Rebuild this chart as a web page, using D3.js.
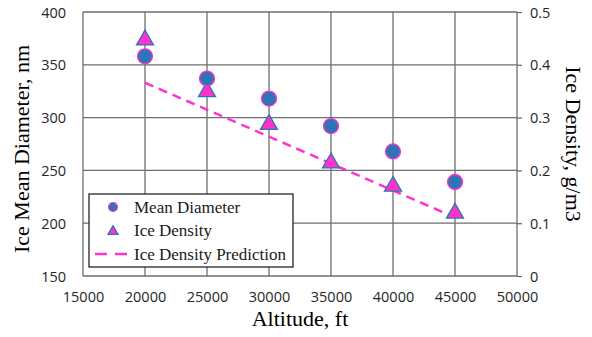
<!DOCTYPE html>
<html>
<head>
<meta charset="utf-8">
<script src="https://cdn.jsdelivr.net/npm/d3@7"></script>
<style>
  body { margin: 0; background: #fff; }
  svg { display: block; }
</style>
</head>
<body>
<svg id="chart"></svg>
<script>
// chart data
const altitude = [20000, 25000, 30000, 35000, 40000, 45000];
const meanDiameter = [358, 337, 318, 292, 268, 239];
const iceDensity = [0.447, 0.349, 0.287, 0.214, 0.170, 0.119];
const predictionAlt = [20000, 45000];
const predictionDensity = [0.366, 0.111];
const xTicks = [15000, 20000, 25000, 30000, 35000, 40000, 45000, 50000];
const yLeftTicks = [150, 200, 250, 300, 350, 400];
const yRightTicks = [0, 0.1, 0.2, 0.3, 0.4, 0.5];
const legendLabels = ["Mean Diameter", "Ice Density", "Ice Density Prediction"];

const size = { width: 592, height: 337 };
const plot = { left: 83, right: 517, top: 12, bottom: 276 };

const pink = "#ff33cc";
const blue = "#2e75b6";
const grid = "#6e6e6e";
const tickFont = "'Open Sans', 'DejaVu Sans', sans-serif";
const titleFont = "'Liberation Serif', 'Times New Roman', serif";

const svg = d3.select("#chart")
  .attr("width", size.width)
  .attr("height", size.height);

const xScale = d3.scaleLinear([15000, 50000], [plot.left, plot.right]);
const yLeft = d3.scaleLinear([150, 400], [plot.bottom, plot.top]);
const yRight = d3.scaleLinear([0, 0.5], [plot.bottom, plot.top]);

// gridlines
const gridG = svg.append("g");
gridG.selectAll(".gx")
  .data(xTicks)
  .join("line")
  .attr("x1", d => xScale(d)).attr("x2", d => xScale(d))
  .attr("y1", plot.top).attr("y2", plot.bottom)
  .attr("stroke", grid).attr("stroke-width", 1.3);
gridG.selectAll(".gy")
  .data(yLeftTicks)
  .join("line")
  .attr("x1", plot.left).attr("x2", plot.right)
  .attr("y1", d => yLeft(d)).attr("y2", d => yLeft(d))
  .attr("stroke", grid).attr("stroke-width", 1.3);

// axes (labels only on left / bottom, ticks on right)
const xAxis = svg.append("g")
  .attr("transform", `translate(0,${plot.bottom})`)
  .call(d3.axisBottom(xScale).tickValues(xTicks).tickFormat(d3.format("d")).tickSize(0).tickPadding(16));
const leftAxis = svg.append("g")
  .attr("transform", `translate(${plot.left},0)`)
  .call(d3.axisLeft(yLeft).tickValues(yLeftTicks).tickSize(0).tickPadding(17));
const rightAxis = svg.append("g")
  .attr("transform", `translate(${plot.right},0)`)
  .call(d3.axisRight(yRight).tickValues(yRightTicks).tickFormat(d => d === 0 ? "0" : d3.format(".1f")(d)).tickSize(5).tickPadding(8));

[xAxis, leftAxis, rightAxis].forEach(a => {
  a.select(".domain").remove();
  a.selectAll("text")
    .attr("font-family", tickFont)
    .attr("font-size", 14.5)
    .attr("fill", "#262626");
  a.selectAll("line").attr("stroke", grid).attr("stroke-width", 1.3);
});
rightAxis.selectAll("text").attr("dy", "0.35em");
leftAxis.selectAll("text").attr("dy", "0.35em");

// axis titles
svg.append("text")
  .attr("x", 300)
  .attr("y", 326)
  .attr("text-anchor", "middle")
  .attr("font-family", titleFont)
  .attr("font-size", 22)
  .text("Altitude, ft");
svg.append("text")
  .attr("transform", `translate(29,${(plot.top + plot.bottom) / 2 + 5}) rotate(-90)`)
  .attr("text-anchor", "middle")
  .attr("font-family", titleFont)
  .attr("font-size", 22)
  .text("Ice Mean Diameter, nm");
svg.append("text")
  .attr("transform", `translate(566,${(plot.top + plot.bottom) / 2}) rotate(90)`)
  .attr("text-anchor", "middle")
  .attr("font-family", titleFont)
  .attr("font-size", 22)
  .text("Ice Density, g/m3");

// prediction line
const line = d3.line()
  .x(d => xScale(d[0]))
  .y(d => yRight(d[1]));
svg.append("path")
  .datum(d3.zip(predictionAlt, predictionDensity))
  .attr("d", line)
  .attr("fill", "none")
  .attr("stroke", pink)
  .attr("stroke-width", 2.5)
  .attr("stroke-dasharray", "9,6");

// markers
const triangle = d3.symbol().type(d3.symbolTriangle).size(125);
svg.append("g")
  .selectAll("path")
  .data(d3.zip(altitude, iceDensity))
  .join("path")
  .attr("d", triangle)
  .attr("transform", d => `translate(${xScale(d[0])},${yRight(d[1])})`)
  .attr("fill", pink)
  .attr("stroke", blue)
  .attr("stroke-width", 1.3);

svg.append("g")
  .selectAll("circle")
  .data(d3.zip(altitude, meanDiameter))
  .join("circle")
  .attr("cx", d => xScale(d[0]))
  .attr("cy", d => yLeft(d[1]))
  .attr("r", 7.5)
  .attr("fill", blue)
  .attr("stroke", pink)
  .attr("stroke-width", 1.3);

// legend
const legend = svg.append("g").attr("transform", "translate(89,194)");
legend.append("rect")
  .attr("width", 204).attr("height", 73)
  .attr("fill", "#fff")
  .attr("stroke", "#262626")
  .attr("stroke-width", 1.3);
const rows = legend.selectAll("g")
  .data(legendLabels)
  .join("g")
  .attr("transform", (d, i) => `translate(0,${13 + i * 23.5})`);
rows.append("text")
  .attr("x", 45)
  .attr("dy", "0.35em")
  .attr("font-family", titleFont)
  .attr("font-size", 17)
  .attr("fill", "#1a1a1a")
  .text(d => d);
rows.filter((d, i) => i === 0).append("circle")
  .attr("cx", 24).attr("r", 4.5)
  .attr("fill", blue).attr("stroke", pink).attr("stroke-width", 1.2);
rows.filter((d, i) => i === 1).append("path")
  .attr("d", d3.symbol().type(d3.symbolTriangle).size(45))
  .attr("transform", "translate(24,1)")
  .attr("fill", pink).attr("stroke", blue).attr("stroke-width", 1.2);
rows.filter((d, i) => i === 2).append("line")
  .attr("x1", 6).attr("x2", 44)
  .attr("stroke", pink).attr("stroke-width", 2.5)
  .attr("stroke-dasharray", "12,8");
</script>
</body>
</html>
